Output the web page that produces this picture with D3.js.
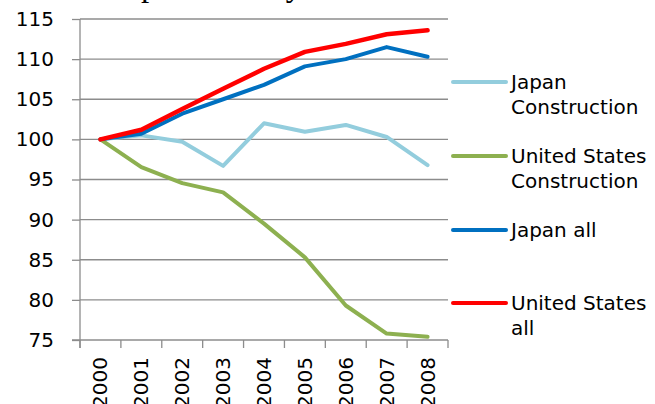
<!DOCTYPE html>
<html><head><meta charset="utf-8">
<script src="https://cdn.jsdelivr.net/npm/d3@7"></script>
<style>body{margin:0;background:#fff;} svg{display:block;}</style>
</head><body>
<script>
const years = ["2000","2001","2002","2003","2004","2005","2006","2007","2008"];
const japanConstruction = [100, 100.5, 99.7, 96.7, 102.0, 100.95, 101.8, 100.3, 96.8];
const usConstruction    = [100, 96.55, 94.55, 93.4, 89.5, 85.3, 79.3, 75.8, 75.4];
const japanAll          = [100, 100.7, 103.2, 105.0, 106.8, 109.1, 110.0, 111.5, 110.3];
const usAll             = [100, 101.2, 103.8, 106.3, 108.8, 110.9, 111.9, 113.1, 113.6];
const yTicks = [75, 80, 85, 90, 95, 100, 105, 110, 115];
const seriesNames = [["Japan","Construction"],["United States","Construction"],["Japan all"],["United States","all"]];
const seriesColors = ["#93CDDD", "#8DB050", "#0070C0", "#FF0000"];
const seriesData = [japanConstruction, usConstruction, japanAll, usAll];
const titleText = "Labor productivity";

const W = 655, H = 404;
const svg = d3.select("body").append("svg").attr("width", W).attr("height", H);
const mLeft = 80, mRight = 448, mTop = 19, mBottom = 340;
const x = d3.scaleBand().domain(years).range([mLeft, mRight]).padding(0);
const y = d3.scaleLinear().domain([75, 115]).range([mBottom, mTop]);
const axisColor = "#8C8C8C";
const font = "DejaVu Sans";

// partially clipped title
svg.append("text").attr("x", 54).attr("y", -4)
  .attr("font-family", "Liberation Serif").attr("font-size", 33).attr("fill", "#000")
  .text(titleText);

// gridlines
svg.append("g").selectAll("line").data(yTicks.filter(d => d !== 75)).join("line")
  .attr("x1", mLeft).attr("x2", mRight).attr("y1", d => y(d)).attr("y2", d => y(d))
  .attr("stroke", axisColor).attr("stroke-width", 1.3);

// y axis
const yAxis = svg.append("g").attr("transform", `translate(${mLeft},0)`)
  .call(d3.axisLeft(y).tickValues(yTicks).tickSize(8).tickPadding(18));
yAxis.select(".domain").remove();
yAxis.selectAll(".tick line").attr("stroke", axisColor).attr("stroke-width", 1.3);
yAxis.selectAll(".tick text").attr("font-family", font).attr("font-size", 20).attr("fill", "#000");
svg.append("line").attr("x1", mLeft).attr("x2", mLeft).attr("y1", mTop).attr("y2", mBottom + 8)
  .attr("stroke", axisColor).attr("stroke-width", 1.3);

// x axis
svg.append("line").attr("x1", mLeft - 8).attr("x2", mRight).attr("y1", mBottom).attr("y2", mBottom)
  .attr("stroke", axisColor).attr("stroke-width", 1.3);
const bounds = years.map(d => x(d)).concat([x(years[years.length-1]) + x.bandwidth()]);
svg.append("g").selectAll("line").data(bounds).join("line")
  .attr("x1", d => d).attr("x2", d => d).attr("y1", mBottom).attr("y2", mBottom + 8)
  .attr("stroke", axisColor).attr("stroke-width", 1.3);
svg.append("g").selectAll("text").data(years).join("text")
  .attr("transform", d => `translate(${x(d) + x.bandwidth()/2 + 7},${mBottom + 17}) rotate(-90)`)
  .attr("text-anchor", "end").attr("font-family", font).attr("font-size", 20).attr("fill", "#000")
  .text(d => d);

// lines
const line = d3.line().x((d, i) => x(years[i]) + x.bandwidth()/2).y(d => y(d));
seriesData.forEach((s, k) => {
  svg.append("path").datum(s).attr("d", line).attr("fill", "none")
    .attr("stroke", seriesColors[k]).attr("stroke-width", k === 3 ? 4.5 : 4)
    .attr("stroke-linejoin", "round").attr("stroke-linecap", "round");
});

// legend
const legY = [82, 156, 230, 303];
seriesNames.forEach((names, k) => {
  svg.append("line").attr("x1", 453).attr("x2", 506).attr("y1", legY[k]).attr("y2", legY[k])
    .attr("stroke", seriesColors[k]).attr("stroke-width", 4).attr("stroke-linecap", "round");
  const t = svg.append("text").attr("font-family", font).attr("font-size", 20).attr("fill", "#000");
  names.forEach((n, j) => {
    t.append("tspan").attr("x", 511).attr("y", legY[k] + 7 + j * 25).text(n);
  });
});
</script>
</body></html>
